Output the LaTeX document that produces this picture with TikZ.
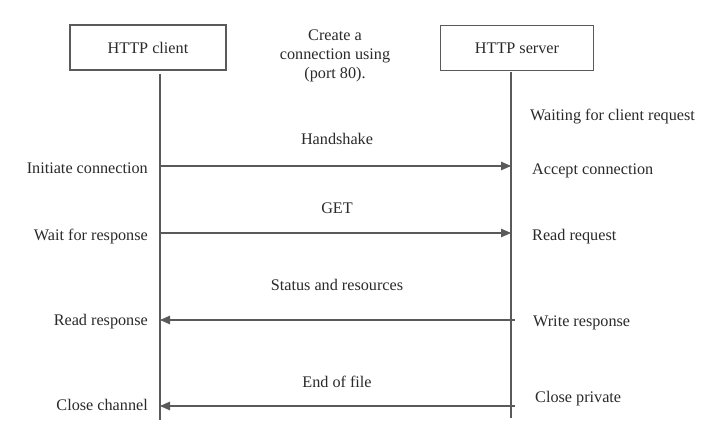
\documentclass[tikz,border=0pt]{standalone}
\usepackage{fontspec}
\setmainfont{Liberation Serif}
\usetikzlibrary{arrows.meta}
\definecolor{linegray}{HTML}{5A5A5A}
\definecolor{textgray}{HTML}{2A2A2A}
\tikzset{
  lbl/.style={inner sep=0pt, text=textgray, font=\fontsize{16.2}{19}\selectfont},
  actor/.style={draw=linegray, line width=1.1pt, minimum height=45pt, inner sep=0pt, text=textgray, font=\fontsize{16.2}{19}\selectfont},
  life/.style={draw=linegray, line width=1.1pt},
  msg/.style={draw=linegray, line width=1.1pt, -{Triangle[length=10pt,width=8.5pt]}}
}
\begin{document}
\begin{tikzpicture}[x=1pt,y=-1pt]
\useasboundingbox[fill=white] (0,0) rectangle (720,446);
% actors
\node[actor, minimum width=156pt] (client) at (148,47.5) {HTTP client};
\node[actor, minimum width=153pt] (server) at (517,48) {HTTP server};
% lifelines
\coordinate (ctop) at (160,74);
\coordinate (cbot) at (160,420);
\coordinate (stop) at (511,72);
\coordinate (sbot) at (511,418);
\draw[life] (ctop) -- (cbot);
\draw[life] (stop) -- (sbot);
% message endpoints
\coordinate (c1) at (160,166); \coordinate (s1) at (511,166);
\coordinate (c2) at (160,233); \coordinate (s2) at (511,233);
\coordinate (c3) at (160,320); \coordinate (s3) at (515,320);
\coordinate (c4) at (160,406); \coordinate (s4) at (515,406);
\draw[msg] (c1) -- (s1);
\draw[msg] (c2) -- (s2);
\draw[msg] (s3) -- (c3);
\draw[msg] (s4) -- (c4);
% middle labels
\node[lbl, align=center] (create) at (335,56) {Create a\\connection using\\(port 80).};
\node[lbl, anchor=mid] (hs) at (337,142) {Handshake};
\node[lbl, anchor=mid] (get) at (337,211) {GET};
\node[lbl, anchor=mid] (status) at (337,288) {Status and resources};
\node[lbl, anchor=mid] (eof) at (337,385) {End of file};
% client side labels
\node[lbl, anchor=mid east] (l1) at (148,171) {Initiate connection};
\node[lbl, anchor=mid east] (l2) at (148,238) {Wait for response};
\node[lbl, anchor=mid east] (l3) at (148,323) {Read response};
\node[lbl, anchor=mid east] (l4) at (148,408) {Close channel};
% server side labels
\node[lbl, anchor=mid west] (r0) at (530,118) {Waiting for client request};
\node[lbl, anchor=mid west] (r1) at (532,172) {Accept connection};
\node[lbl, anchor=mid west] (r2) at (532,238) {Read request};
\node[lbl, anchor=mid west] (r3) at (533,324) {Write response};
\node[lbl, anchor=mid west] (r4) at (535,400) {Close private};
\end{tikzpicture}
\end{document}
